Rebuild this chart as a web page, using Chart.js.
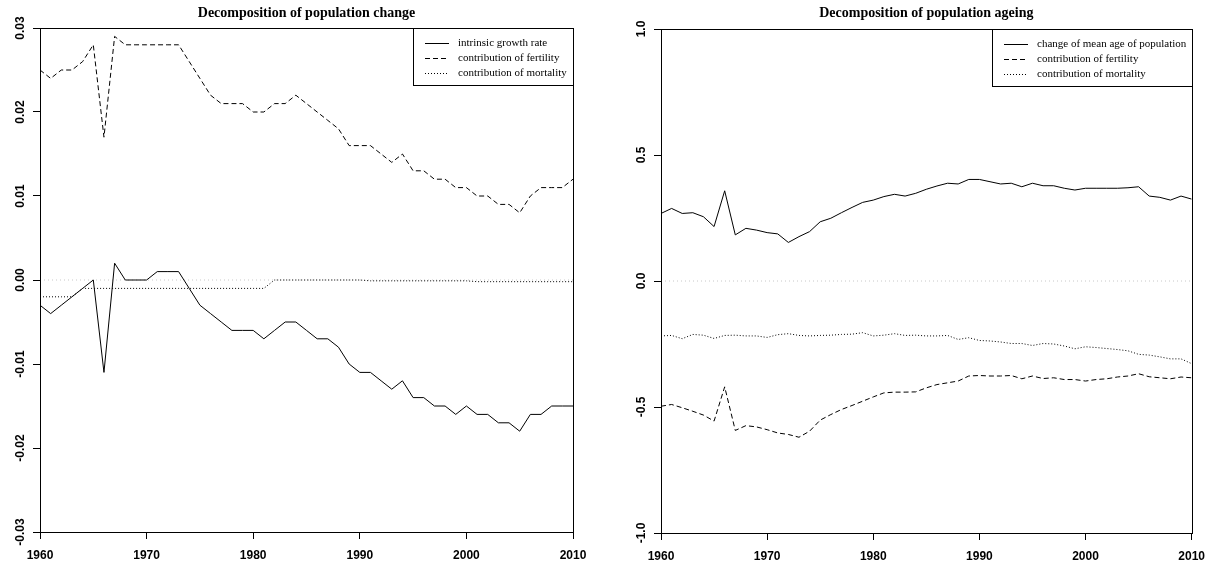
<!DOCTYPE html>
<html>
<head>
<meta charset="utf-8">
<script src="https://cdn.jsdelivr.net/npm/chart.js@4.4.0/dist/chart.umd.min.js"></script>
<style>
html, body { margin: 0; padding: 0; background: #fff; }
#wrap { position: relative; width: 1214px; height: 565px; }
canvas { position: absolute; top: 0; }
#changeChart { left: 0; }
#ageingChart { left: 607px; }
</style>
</head>
<body>
<div id="wrap">
<canvas id="changeChart" width="607" height="565"></canvas>
<canvas id="ageingChart" width="607" height="565"></canvas>
</div>
<script>
// Years 1960 - 2010
const years = [1960, 1961, 1962, 1963, 1964, 1965, 1966, 1967, 1968, 1969,
    1970, 1971, 1972, 1973, 1974, 1975, 1976, 1977, 1978, 1979,
    1980, 1981, 1982, 1983, 1984, 1985, 1986, 1987, 1988, 1989,
    1990, 1991, 1992, 1993, 1994, 1995, 1996, 1997, 1998, 1999,
    2000, 2001, 2002, 2003, 2004, 2005, 2006, 2007, 2008, 2009, 2010];

// Decomposition of population change
const growthRate = [-0.003, -0.004, -0.003, -0.002, -0.001, 0.000, -0.011, 0.002, 0.000, 0.000,
    0.000, 0.001, 0.001, 0.001, -0.001, -0.003, -0.004, -0.005, -0.006, -0.006,
    -0.006, -0.007, -0.006, -0.005, -0.005, -0.006, -0.007, -0.007, -0.008, -0.010,
    -0.011, -0.011, -0.012, -0.013, -0.012, -0.014, -0.014, -0.015, -0.015, -0.016,
    -0.015, -0.016, -0.016, -0.017, -0.017, -0.018, -0.016, -0.016, -0.015, -0.015, -0.015];
const changeFertility = [0.025, 0.024, 0.025, 0.025, 0.026, 0.028, 0.017, 0.029, 0.028, 0.028,
    0.028, 0.028, 0.028, 0.028, 0.026, 0.024, 0.022, 0.021, 0.021, 0.021,
    0.020, 0.020, 0.021, 0.021, 0.022, 0.021, 0.020, 0.019, 0.018, 0.016,
    0.016, 0.016, 0.015, 0.014, 0.015, 0.013, 0.013, 0.012, 0.012, 0.011,
    0.011, 0.010, 0.010, 0.009, 0.009, 0.008, 0.010, 0.011, 0.011, 0.011, 0.012];
const changeMortality = [-0.002, -0.002, -0.002, -0.002, -0.001, -0.001, -0.001, -0.001, -0.001, -0.001,
    -0.001, -0.001, -0.001, -0.001, -0.001, -0.001, -0.001, -0.001, -0.001, -0.001,
    -0.001, -0.001, 0.0000, 0.0000, 0.0000, 0.0000, 0.0000, 0.0000, 0.0000, 0.0000,
    0.0000, -0.0001, -0.0001, -0.0001, -0.0001, -0.0001, -0.0001, -0.0001, -0.0001, -0.0001,
    -0.0001, -0.0002, -0.0002, -0.0002, -0.0002, -0.0002, -0.0002, -0.0002, -0.0002, -0.0002, -0.0002];

// Decomposition of population ageing
const meanAgeChange = [0.268, 0.288, 0.268, 0.271, 0.255, 0.216, 0.358, 0.183, 0.209, 0.202,
    0.192, 0.187, 0.153, 0.176, 0.196, 0.235, 0.249, 0.271, 0.292, 0.312,
    0.321, 0.335, 0.344, 0.337, 0.348, 0.364, 0.377, 0.388, 0.385, 0.403,
    0.403, 0.394, 0.385, 0.388, 0.374, 0.388, 0.378, 0.378, 0.368, 0.361,
    0.368, 0.368, 0.368, 0.368, 0.370, 0.374, 0.337, 0.332, 0.321, 0.337, 0.325];
const ageingFertility = [-0.497, -0.490, -0.503, -0.517, -0.532, -0.556, -0.420, -0.593, -0.574, -0.579,
    -0.590, -0.603, -0.609, -0.620, -0.596, -0.552, -0.530, -0.510, -0.494, -0.477,
    -0.460, -0.444, -0.441, -0.441, -0.440, -0.424, -0.411, -0.404, -0.397, -0.377,
    -0.375, -0.377, -0.377, -0.375, -0.388, -0.377, -0.387, -0.384, -0.391, -0.391,
    -0.397, -0.391, -0.388, -0.381, -0.377, -0.368, -0.380, -0.384, -0.388, -0.381, -0.384];
const ageingMortality = [-0.218, -0.216, -0.229, -0.212, -0.215, -0.228, -0.216, -0.215, -0.218, -0.218,
    -0.224, -0.213, -0.209, -0.216, -0.218, -0.216, -0.215, -0.212, -0.211, -0.205,
    -0.218, -0.215, -0.209, -0.216, -0.215, -0.218, -0.218, -0.216, -0.232, -0.225,
    -0.236, -0.238, -0.242, -0.248, -0.248, -0.256, -0.248, -0.250, -0.258, -0.269,
    -0.261, -0.264, -0.268, -0.272, -0.277, -0.291, -0.294, -0.301, -0.309, -0.309, -0.328];

// Zero reference line
const refYears = [1960, 2010];
const refLine = [0, 0];

// Tick labels
const xTicks = [1960, 1970, 1980, 1990, 2000, 2010];
const yTicksChange = ['-0.03', '-0.02', '-0.01', '0.00', '0.01', '0.02', '0.03'];
const yTicksAgeing = ['-1.0', '-0.5', '0.0', '0.5', '1.0'];

const tickFont = '"Liberation Sans", Arial, sans-serif';
const serifFont = '"Liberation Serif", "Times New Roman", serif';

function points(xs, ys) {
    let data = [];
    for (let i = 0; i < xs.length; i++) {
        data.push({ x: xs[i], y: ys[i] });
    }
    return data;
}

function lineSet(label, xs, ys, dash) {
    return {
        label,
        data: points(xs, ys),
        borderColor: '#000',
        borderWidth: 1,
        borderDash: dash,
        pointRadius: 0,
        tension: 0
    };
}

// Box, title, rotated y labels and legend like the R plot
const rStyle = {
    id: 'rStyle',
    afterDraw(chart, args, opts) {
        const ctx = chart.ctx;
        const area = chart.chartArea;
        ctx.save();
        ctx.strokeStyle = '#000';
        ctx.lineWidth = 1;
        ctx.setLineDash([]);
        ctx.strokeRect(Math.round(area.left) + 0.5, Math.round(area.top) + 0.5,
            Math.round(area.right - area.left), Math.round(area.bottom - area.top));

        ctx.fillStyle = '#000';
        ctx.font = 'bold 14px ' + serifFont;
        ctx.textAlign = 'center';
        ctx.textBaseline = 'middle';
        ctx.fillText(opts.title, (area.left + area.right) / 2, 13);

        // y labels, turned like R does
        const y = chart.scales.y;
        ctx.font = 'bold 12px ' + tickFont;
        opts.yLabels.forEach((label) => {
            ctx.save();
            ctx.translate(area.left - 19, y.getPixelForValue(parseFloat(label)));
            ctx.rotate(-Math.PI / 2);
            ctx.fillText(label, 0, 0);
            ctx.restore();
        });

        // legend
        const sets = chart.data.datasets.filter(d => d.label);
        ctx.font = '11px ' + serifFont;
        let textW = 0;
        for (let d of sets) textW = Math.max(textW, ctx.measureText(d.label).width);
        const w = Math.round(45 + textW + 6);
        const h = 57;
        const x0 = Math.round(area.right) - w;
        const y0 = Math.round(area.top);
        ctx.fillStyle = '#fff';
        ctx.fillRect(x0, y0, w, h);
        ctx.strokeRect(x0 + 0.5, y0 + 0.5, w, h);
        ctx.textAlign = 'left';
        ctx.fillStyle = '#000';
        sets.forEach((d, i) => {
            const ly = y0 + 15 + i * 15;
            ctx.setLineDash(d.borderDash || []);
            ctx.beginPath();
            ctx.moveTo(x0 + 12, ly + 0.5);
            ctx.lineTo(x0 + 36, ly + 0.5);
            ctx.stroke();
            ctx.setLineDash([]);
            ctx.fillText(d.label, x0 + 45, ly);
        });
        ctx.restore();
    }
};

function buildChart(id, title, datasets, yLabels, box) {
    const yValues = yLabels.map(v => parseFloat(v));
    return new Chart(document.getElementById(id), {
        type: 'line',
        data: { datasets },
        options: {
            responsive: false,
            animation: false,
            devicePixelRatio: 1,
            layout: { padding: { left: 0, top: box.top, right: box.right, bottom: 0 } },
            plugins: {
                legend: { display: false },
                tooltip: { enabled: false },
                rStyle: { title, yLabels }
            },
            scales: {
                x: {
                    type: 'linear',
                    min: 1960,
                    max: 2010,
                    afterBuildTicks: (scale) => { scale.ticks = xTicks.map(v => ({ value: v })); },
                    afterFit: (scale) => { scale.height = box.bottom; },
                    ticks: {
                        color: '#000',
                        padding: 9,
                        maxRotation: 0,
                        font: { family: tickFont, size: 12, weight: 'bold' },
                        callback: (v) => String(v)
                    },
                    grid: { drawOnChartArea: false, tickLength: 7, tickColor: '#000', color: '#000' },
                    border: { display: true, color: '#000', width: 1 }
                },
                y: {
                    type: 'linear',
                    min: yValues[0],
                    max: yValues[yValues.length - 1],
                    afterBuildTicks: (scale) => {
                        scale.ticks = yValues.map(v => ({ value: v }));
                    },
                    afterFit: (scale) => { scale.width = box.left; },
                    ticks: { display: false },
                    grid: { drawOnChartArea: false, tickLength: 7, tickColor: '#000', color: '#000' },
                    border: { display: true, color: '#000', width: 1 }
                }
            }
        },
        plugins: [rStyle]
    });
}

function zeroLine() {
    let set = lineSet('', refYears, refLine, [1, 3]);
    set.borderColor = '#c8c8c8';
    return set;
}

buildChart('changeChart', 'Decomposition of population change', [
    lineSet('intrinsic growth rate', years, growthRate, []),
    lineSet('contribution of fertility', years, changeFertility, [5, 3]),
    lineSet('contribution of mortality', years, changeMortality, [1, 2]),
    zeroLine()
], yTicksChange, { left: 40, top: 28, right: 34, bottom: 33 });

buildChart('ageingChart', 'Decomposition of population ageing', [
    lineSet('change of mean age of population', years, meanAgeChange, []),
    lineSet('contribution of fertility', years, ageingFertility, [5, 3]),
    lineSet('contribution of mortality', years, ageingMortality, [1, 2]),
    zeroLine()
], yTicksAgeing, { left: 54, top: 29, right: 18, bottom: 32 });
</script>
</body>
</html>
